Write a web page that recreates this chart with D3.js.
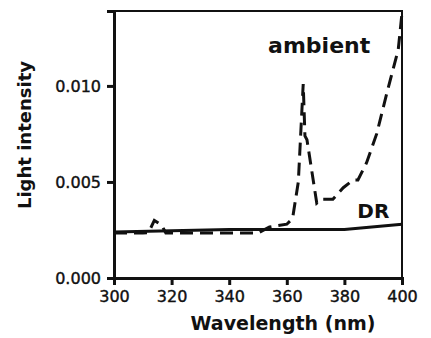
<!DOCTYPE html>
<html>
<head>
<meta charset="utf-8">
<script src="https://cdn.jsdelivr.net/npm/d3@7"></script>
<style>
  body { margin: 0; background: #fff; }
  text { font-family: "DejaVu Sans", sans-serif; fill: #111; }
</style>
</head>
<body>
<div id="chart"></div>
<script>
// wavelength (nm) and intensity values
const ambientWl = [300, 310, 312, 314, 316.5, 318, 330, 350, 354, 360, 362, 364, 365.7, 366.3, 367, 370.4, 372, 376, 379.6, 383, 384.7, 387.7, 391.2, 394.7, 398.7, 400];
const ambientVal = [0.00234, 0.00234, 0.00236, 0.0030, 0.00276, 0.00234, 0.00234, 0.00234, 0.00266, 0.0028, 0.0031, 0.0050, 0.0101, 0.0074, 0.0072, 0.0039, 0.0041, 0.0041, 0.0047, 0.0051, 0.0051, 0.0060, 0.0075, 0.0096, 0.0119, 0.0138];
const drWl = [300, 340, 380, 400];
const drVal = [0.0024, 0.00252, 0.00252, 0.0028];
const xTicks = [300, 320, 340, 360, 380, 400];
const yTicks = [0.000, 0.005, 0.010];

const W = 431, H = 338;
const margin = { top: 11, right: 29, bottom: 60, left: 114 };
const width = W - margin.left - margin.right;
const height = H - margin.top - margin.bottom;

const svg = d3.select("#chart").append("svg")
    .attr("width", W)
    .attr("height", H);

const g = svg.append("g")
    .attr("transform", `translate(${margin.left},${margin.top})`);

const x = d3.scaleLinear().domain([300, 400]).range([0, width]);
const y = d3.scaleLinear().domain([0, 0.0139]).range([height, 0]);

// frame (top/right)
g.append("rect")
    .attr("x", 0).attr("y", 0)
    .attr("width", width).attr("height", height)
    .attr("fill", "none")
    .attr("stroke", "#111")
    .attr("stroke-width", 2);

const xAxis = g.append("g")
    .attr("transform", `translate(0,${height})`)
    .call(d3.axisBottom(x).tickValues(xTicks).tickSize(7).tickFormat(d3.format("d")));
const yAxis = g.append("g")
    .call(d3.axisLeft(y).tickValues(yTicks).tickSize(7).tickFormat(d3.format(".3f")));

[xAxis, yAxis].forEach(a => {
    a.select(".domain").attr("stroke", "#111").attr("stroke-width", 3);
    a.selectAll(".tick line").attr("stroke", "#111").attr("stroke-width", 3);
    a.selectAll(".tick text")
        .attr("font-family", "'DejaVu Sans', sans-serif")
        .attr("font-size", 16)
        .attr("fill", "#111")
        .attr("stroke", "#111")
        .attr("stroke-width", 0.4);
});
xAxis.selectAll(".tick text").attr("dy", "0.85em");
yAxis.selectAll(".tick text").attr("x", -13);

const line = d3.line().x(d => x(d[0])).y(d => y(d[1]));

g.append("path")
    .datum(drWl.map((w, i) => [w, drVal[i]]))
    .attr("d", line)
    .attr("fill", "none")
    .attr("stroke", "#111")
    .attr("stroke-width", 3);

g.append("path")
    .datum(ambientWl.map((w, i) => [w, ambientVal[i]]))
    .attr("d", line)
    .attr("fill", "none")
    .attr("stroke", "#111")
    .attr("stroke-width", 3)
    .attr("stroke-dasharray", "13,7");

// series labels
g.append("text")
    .attr("x", x(353.5)).attr("y", y(0.0117))
    .attr("font-size", 22).attr("font-weight", 700)
    .text("ambient");
g.append("text")
    .attr("x", x(384.5)).attr("y", y(0.00312))
    .attr("font-size", 20).attr("font-weight", 700)
    .text("DR");

// axis titles
svg.append("text")
    .attr("x", 283).attr("y", 330)
    .attr("text-anchor", "middle")
    .attr("font-size", 19).attr("font-weight", 700)
    .text("Wavelength (nm)");
svg.append("text")
    .attr("transform", `translate(31,135) rotate(-90)`)
    .attr("text-anchor", "middle")
    .attr("font-size", 18).attr("font-weight", 700)
    .text("Light intensity");
</script>
</body>
</html>
